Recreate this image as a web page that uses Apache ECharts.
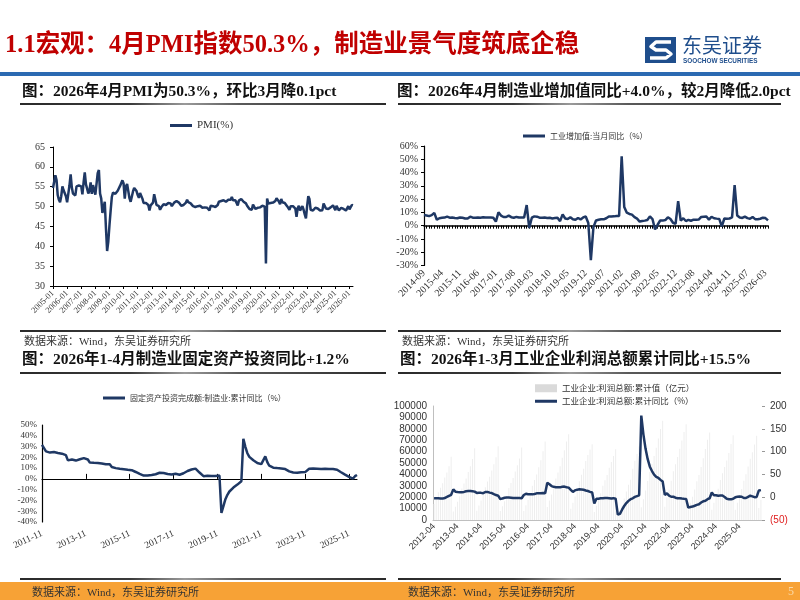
<!DOCTYPE html>
<html><head><meta charset="utf-8">
<script src="https://cdn.jsdelivr.net/npm/echarts@6/dist/echarts.min.js"></script>
<style>html,body{margin:0;padding:0;background:#fff}#c{width:800px;height:600px}</style>
</head><body><div id="c"></div>
<script>
// ---------- category labels ----------
function monthLabels(y0, m0, y1, m1, skipJanFromYear) {
  const out = [];
  let y = y0, m = m0;
  while (y < y1 || (y === y1 && m <= m1)) {
    if (!(m === 1 && y >= skipJanFromYear)) out.push(y + '-' + (m < 10 ? '0' + m : m));
    m++; if (m > 12) { m = 1; y++; }
  }
  return out;
}
const pmiCategories = monthLabels(2005, 1, 2026, 4, 9999);
const iavCategories = monthLabels(2014, 9, 2026, 4, 2022);
const faiCategories = monthLabels(2011, 11, 2026, 4, 2000);
const profitCategories = monthLabels(2012, 4, 2026, 3, 2000);

// ---------- series values ----------
const pmiValues = [
  54.7,54.5,57.9,56.7,52.9,51.7,51.1,52.6,55.1,54.1,54.1,52.6,
  51.1,53.2,55.3,58.1,54.8,53.3,53.3,52.8,55.1,54.7,55.3,54.8,
  55.1,53.1,56.1,58.6,55.6,54.5,53.3,54.0,56.1,53.2,55.4,55.3,
  53.0,53.4,58.4,59.2,53.3,52.0,48.4,48.4,51.2,44.6,38.8,41.2,
  45.3,49.0,52.4,53.5,53.1,53.2,53.3,54.0,54.3,55.2,55.2,56.6,
  55.8,52.0,55.1,55.7,53.9,52.1,51.2,51.7,53.8,54.7,55.2,53.9,
  52.9,52.2,53.4,52.9,52.0,50.9,50.7,50.9,51.2,50.4,49.0,50.3,
  50.5,51.0,53.1,53.3,50.4,50.2,50.1,49.2,49.8,50.2,50.6,50.6,
  50.4,50.1,50.9,50.6,50.8,50.1,50.3,51.0,51.1,51.4,51.4,51.0,
  50.5,50.2,50.3,50.4,50.8,51.0,51.7,51.1,51.1,50.8,50.3,50.1,
  49.8,49.9,50.1,50.1,50.2,50.2,50.0,49.7,49.8,49.8,49.6,49.7,
  49.4,49.0,50.2,50.1,50.1,50.0,49.9,50.4,50.4,51.2,51.7,51.4,
  51.3,51.6,51.8,51.2,51.2,51.7,51.4,51.7,52.4,51.6,51.8,51.6,
  51.3,50.3,51.5,51.4,51.9,51.5,51.2,51.3,50.8,50.2,50.0,49.4,
  49.5,49.2,50.5,50.1,49.4,49.4,49.7,49.5,49.8,49.3,50.2,50.2,
  50.0,35.7,52.0,50.8,50.6,50.9,51.1,51.0,51.5,51.4,52.1,51.9,
  51.3,50.6,51.9,51.1,51.0,50.9,50.4,50.1,49.6,49.2,50.1,50.3,
  50.1,50.2,49.5,47.4,49.6,50.2,49.0,49.4,50.1,49.2,48.0,47.0,
  50.1,52.6,51.9,49.2,48.8,49.0,49.3,49.7,50.2,49.5,49.4,49.0,
  49.2,49.1,50.8,50.4,49.5,49.5,49.4,49.1,49.8,50.1,50.3,50.1,
  49.1,50.2,50.5,49.0,49.5,49.7,49.3,49.4,49.8,49.0,49.2,50.1,
  49.3,49.2,50.4,50.3
];
const iavValues = [
  8.0,7.7,7.2,7.9,
  9.6,4.5,5.6,5.9,6.1,6.8,6.0,6.1,5.7,5.6,6.2,5.9,
  5.4,5.4,6.8,6.0,6.0,6.2,6.0,6.3,6.1,6.1,6.2,6.0,
  3.0,10.0,7.6,6.5,6.5,7.6,6.4,6.0,6.6,6.2,6.1,6.2,
  15.5,-1.8,6.0,7.0,6.8,6.0,6.0,6.1,5.8,5.9,5.4,5.7,
  6.0,3.4,8.5,5.4,5.0,6.3,4.8,4.4,5.8,4.7,6.2,6.9,
  2.0,-25.9,-1.1,3.9,4.4,4.8,4.8,5.6,6.9,6.9,7.0,7.3,
  7.3,52.3,14.1,9.8,8.8,8.3,6.4,5.3,3.1,3.5,3.8,4.3,
  7.0,5.0,-2.9,0.7,3.9,3.8,4.2,6.3,5.0,2.2,1.3,
  18.5,3.9,5.6,3.5,4.4,3.7,4.5,4.5,4.6,6.6,6.8,
  6.9,4.5,6.7,5.6,5.3,5.1,-0.5,5.4,5.3,5.4,6.2,
  30.5,7.7,6.1,5.8,6.8,5.7,5.2,6.5,4.9,4.8,5.2,
  6.0,5.7,4.0
];
const faiValues = [
  31.5,31.8,
  25.5,24.7,24.4,25.0,24.9,24.6,24.1,23.5,23.4,22.4,22.0,
  17.2,19.0,18.0,17.3,17.0,17.6,18.2,19.0,19.3,18.5,18.0,
  15.1,15.2,14.9,14.8,14.8,14.6,14.2,13.8,13.5,13.0,13.5,
  11.0,10.4,10.0,9.7,9.4,9.0,8.9,8.3,8.4,8.1,8.1,
  7.5,6.4,6.0,4.6,3.3,3.1,2.8,3.1,3.1,3.6,4.2,
  4.3,5.8,5.7,5.1,5.5,4.8,4.5,4.2,4.1,4.1,4.8,
  4.3,3.8,4.8,5.2,6.8,7.3,7.5,8.7,9.1,9.5,9.5,
  5.9,4.6,2.5,2.7,3.0,3.3,2.6,2.5,2.6,2.5,3.1,
  -31.5,-25.2,-18.8,-14.8,-11.7,-10.2,-8.1,-6.5,-5.3,-3.5,-2.2,
  37.3,29.8,23.8,20.4,19.2,17.3,15.7,14.8,14.2,13.7,13.5,
  20.9,15.6,12.2,10.6,10.4,9.9,10.0,10.1,9.7,9.3,9.1,
  8.1,7.0,6.4,6.0,6.0,5.7,5.9,6.2,6.2,6.3,6.5,
  9.4,9.9,9.7,9.6,9.5,9.3,9.1,9.2,9.3,9.3,9.2,
  9.0,9.1,8.8,8.5,7.5,6.2,5.1,4.0,2.7,1.9,0.6,
  0.3,2.5,3.6
];
const profitTotal = [
  14000,18600,24400,28300,32200,37200,41700,47100,55578,
  7500,11700,15900,20800,27600,32000,36400,42100,47100,53400,62831,
  8100,12700,17100,21900,28700,33700,38000,43400,48800,55000,64715,
  7800,12000,16400,21100,28000,32500,36800,42600,48000,54000,63554,
  8000,12900,17500,22700,30000,35100,40000,46200,52500,60300,68803,
  11400,17000,22400,28400,36300,41700,47100,54600,61200,68800,75187,
  9800,15100,20600,27000,34100,39800,44900,51700,57100,61800,66351,
  7100,12500,17600,23400,30000,34800,39500,45900,50800,56100,61996,
  4100,7800,12600,18900,25100,31000,35200,45000,52000,58000,64516,
  11100,18300,25900,34200,42200,49200,56100,63300,71600,79800,87092,
  11600,19700,26600,34400,42700,48900,55300,62400,69800,77200,84039,
  8900,15200,20300,26700,33900,39400,46600,54100,62300,70300,76858,
  9100,15100,21000,27500,35100,40900,46500,52300,58700,66700,74311,
  9100,15100,21200,27200,34400,40200,46900,53700,59500,66300,73900,
  10500,17500
];
const profitYoY = [
  -2.2,-2.4,-2.2,-2.7,-3.1,-1.8,0.5,3.0,5.3,
  17.2,12.1,11.4,11.1,11.1,11.6,13.1,13.5,13.7,13.2,12.2,
  9.4,9.6,9.5,8.8,11.4,11.6,10.0,9.0,6.7,4.7,3.3,
  -4.2,-2.7,-1.3,-0.8,-0.7,-1.0,-1.9,-1.7,-2.0,-1.9,-2.3,
  4.8,7.4,6.5,6.4,6.2,6.9,8.4,8.4,8.6,9.4,8.5,
  31.5,28.3,24.4,22.7,22.0,21.6,21.6,22.8,23.3,21.9,21.0,
  16.1,11.6,15.0,16.5,17.2,17.1,16.2,14.7,13.6,11.8,10.3,
  -14.0,-3.3,-3.4,-2.3,-2.4,-1.7,-1.7,-2.1,-2.9,-2.1,-3.3,
  -38.3,-36.7,-27.4,-19.3,-12.8,-8.1,-4.4,-2.4,0.7,2.4,4.1,
  178.9,137.3,106.0,83.4,66.9,57.3,49.5,44.7,42.2,38.0,34.3,
  5.0,8.5,3.5,1.0,1.0,-1.1,-2.1,-2.3,-3.0,-3.6,-4.0,
  -22.9,-21.4,-20.6,-18.8,-16.8,-15.5,-11.7,-9.0,-7.8,-4.4,-2.3,
  10.2,4.3,4.3,3.4,3.5,3.6,0.5,-3.5,-4.3,-4.7,-3.3,
  -0.3,0.8,1.4,1.1,-1.8,-1.7,0.9,3.2,1.9,0.1,0.6,
  14.5,15.5
];

// ---------- texts ----------
const mainTitle = '1.1宏观：4月PMI指数50.3%，制造业景气度筑底企稳';
const chartTitles = [
  '图：2026年4月PMI为50.3%，环比3月降0.1pct',
  '图：2026年4月制造业增加值同比+4.0%，较2月降低2.0pct',
  '图：2026年1-4月制造业固定资产投资同比+1.2%',
  '图：2026年1-3月工业企业利润总额累计同比+15.5%'
];
const sourceText = '数据来源：Wind，东吴证券研究所';
const seriesNames = ['PMI(%)', '工业增加值:当月同比（%）', '固定资产投资完成额:制造业:累计同比（%）',
  '工业企业:利润总额:累计值（亿元）', '工业企业:利润总额:累计同比（%）'];

// ---------- styling ----------
const SERIF = '"Liberation Serif","Times New Roman","Noto Sans CJK SC",serif';
const SANS = '"Liberation Sans",Arial,"Noto Sans CJK SC",sans-serif';
const CJK = '"Noto Sans CJK SC",sans-serif';
const NAVY = '#1F3864';
const TXT = '#333';

function txt(x, y, text, size, family, weight, fill, align) {
  return { type: 'text', x: x, y: y, silent: true,
    style: { text: text, fontSize: size, fontFamily: family, fontWeight: weight || 'normal',
      fill: fill || TXT, align: align || 'left', verticalAlign: 'middle' } };
}
function bar(x, y, w, h, fill) {
  return { type: 'rect', silent: true, shape: { x: x, y: y, width: w, height: h }, style: { fill: fill } };
}
function rule(x, y, w) {
  return bar(x, y, w, 2, { type: 'linear', x: 0, y: 0, x2: 1, y2: 0,
    colorStops: [{ offset: 0, color: '#2a2a2a' }, { offset: 0.3, color: '#3a3a3a' },
      { offset: 0.45, color: '#9a9a9a' }, { offset: 0.6, color: '#5a5a5a' }, { offset: 1, color: '#2a2a2a' }] });
}

const graphic = [
  txt(5, 46, mainTitle, 24.5, SERIF, 'bold', '#C00000'),
  // logo
  bar(645, 37, 31, 26, '#1F4E8C'),
  { type: 'polyline', silent: true, shape: { points: [[671,42],[656,42],[651,46.5],[656,50],[666,50],[671,54],[666,58],[650,58]] },
    style: { stroke: '#fff', lineWidth: 3.5, lineJoin: 'round', fill: null } },
  txt(682, 45, '东吴证券', 20, CJK, 'normal', '#1F4E8C'),
  txt(683, 61, 'SOOCHOW SECURITIES', 6.4, SANS, 'bold', '#1F4E8C'),
  bar(0, 72, 800, 4, '#2B6AB2'),
  // chart titles
  txt(22, 92, chartTitles[0], 15.5, SERIF, 'bold', '#111'),
  txt(397, 92, chartTitles[1], 15.5, SERIF, 'bold', '#111'),
  rule(20, 103, 366), rule(398, 103, 383),
  rule(20, 330, 366), rule(398, 330, 383),
  txt(24, 342, sourceText, 11, SERIF, 'normal', TXT),
  txt(402, 342, sourceText, 11, SERIF, 'normal', TXT),
  txt(22, 360, chartTitles[2], 15.5, SERIF, 'bold', '#111'),
  txt(400, 360, chartTitles[3], 15.5, SERIF, 'bold', '#111'),
  rule(20, 372, 366), rule(398, 372, 383),
  rule(20, 578, 366), rule(398, 578, 383),
  bar(0, 582, 800, 18, '#F7A236'),
  txt(32, 593, sourceText, 11, SERIF, 'normal', '#333'),
  txt(408, 593, sourceText, 11, SERIF, 'normal', '#333'),
  txt(788, 592, '5', 12, SERIF, 'normal', '#FBD9A6')
];

const legendBase = { padding: 0, icon: 'rect', itemWidth: 22, itemHeight: 3, itemGap: 6 };

const option = {
  animation: false,
  backgroundColor: '#fff',
  graphic: graphic,
  grid: [
    { left: 53, top: 147, width: 300, height: 139 },
    { left: 424, top: 146, width: 344, height: 119.5 },
    { left: 42, top: 425, width: 315, height: 97 },
    { left: 433, top: 406, width: 329, height: 114 }
  ],
  legend: [
    Object.assign({}, legendBase, { data: [seriesNames[0]], left: 170, top: 120,
      textStyle: { fontSize: 11, fontFamily: SERIF, color: TXT } }),
    Object.assign({}, legendBase, { data: [seriesNames[1]], left: 523, top: 132,
      textStyle: { fontSize: 8, fontFamily: CJK, color: TXT } }),
    Object.assign({}, legendBase, { data: [seriesNames[2]], left: 103, top: 394,
      textStyle: { fontSize: 8, fontFamily: CJK, color: TXT } }),
    Object.assign({}, legendBase, { data: [seriesNames[3]], left: 535, top: 384, itemHeight: 8,
      itemStyle: { color: '#DADADA' },
      textStyle: { fontSize: 8.5, fontFamily: CJK, color: TXT } }),
    Object.assign({}, legendBase, { data: [seriesNames[4]], left: 535, top: 397,
      textStyle: { fontSize: 8.5, fontFamily: CJK, color: TXT } })
  ],
  xAxis: [
    { gridIndex: 0, type: 'category', data: pmiCategories, boundaryGap: false,
      axisLine: { lineStyle: { color: '#000' } },
      axisTick: { interval: 11, length: 3, lineStyle: { color: '#000' } },
      axisLabel: { interval: 11, rotate: 45, fontSize: 8.5, fontFamily: SERIF, color: TXT, margin: 6 } },
    { gridIndex: 1, type: 'category', data: iavCategories, boundaryGap: false,
      axisLine: { onZero: true, lineStyle: { color: '#000', width: 1.5 } },
      axisTick: { interval: 0, length: 3, lineStyle: { color: '#000' } },
      axisLabel: { interval: 6, rotate: 45, fontSize: 10, fontFamily: SERIF, color: TXT, margin: 6 } },
    { gridIndex: 2, type: 'category', data: faiCategories, boundaryGap: false,
      axisLine: { onZero: true, lineStyle: { color: '#000', width: 1.2 } },
      axisTick: { inside: true, interval: 21, length: 5, lineStyle: { color: '#000' } },
      axisLabel: { interval: 21, rotate: 25, fontSize: 9.5, fontFamily: SERIF, color: TXT, margin: 11 } },
    { gridIndex: 3, type: 'category', data: profitCategories,
      axisLine: { lineStyle: { color: '#BFBFBF' } },
      axisTick: { interval: 10, alignWithLabel: true, length: 3, lineStyle: { color: '#999' } },
      axisLabel: { interval: 10, rotate: 45, fontSize: 9, fontFamily: SANS, color: TXT, margin: 5 } }
  ],
  yAxis: [
    { gridIndex: 0, type: 'value', min: 30, max: 65, interval: 5, splitLine: { show: false },
      axisLine: { show: true, lineStyle: { color: '#000' } },
      axisTick: { show: true, length: 3, lineStyle: { color: '#000' } },
      axisLabel: { fontSize: 10, fontFamily: SERIF, color: TXT } },
    { gridIndex: 1, type: 'value', min: -30, max: 60, interval: 10, splitLine: { show: false },
      axisLine: { show: true, lineStyle: { color: '#000', width: 1.2 } },
      axisTick: { show: true, length: 3, lineStyle: { color: '#000' } },
      axisLabel: { fontSize: 10, fontFamily: SERIF, color: TXT, formatter: '{value}%', margin: 6 } },
    { gridIndex: 2, type: 'value', min: -40, max: 50, interval: 10, splitLine: { show: false },
      axisLine: { show: true, lineStyle: { color: '#000', width: 1.2 } },
      axisTick: { show: false },
      axisLabel: { fontSize: 9, fontFamily: SERIF, color: TXT, formatter: '{value}%', margin: 5 } },
    { gridIndex: 3, type: 'value', min: 0, max: 100000, interval: 10000, splitLine: { show: false },
      axisLine: { show: true, lineStyle: { color: '#BFBFBF' } },
      axisTick: { show: false },
      axisLabel: { fontSize: 10, fontFamily: SANS, color: TXT, margin: 6,
        formatter: function (v) { return String(v); } } },
    { gridIndex: 3, type: 'value', position: 'right', min: -50, max: 200, interval: 50, splitLine: { show: false },
      axisLine: { show: false },
      axisTick: { show: true, length: 3, lineStyle: { color: '#999' } },
      axisLabel: { fontSize: 10, fontFamily: SANS, color: TXT, margin: 8,
        formatter: function (v) { return v < 0 ? '{neg|(' + (-v) + ')}' : String(v); },
        rich: { neg: { color: '#E02020', fontSize: 10, fontFamily: SANS } } } }
  ],
  series: [
    { name: seriesNames[0], type: 'line', xAxisIndex: 0, yAxisIndex: 0, data: pmiValues,
      showSymbol: false, lineStyle: { color: NAVY, width: 2.5 }, itemStyle: { color: NAVY } },
    { name: seriesNames[1], type: 'line', xAxisIndex: 1, yAxisIndex: 1, data: iavValues,
      showSymbol: false, lineStyle: { color: NAVY, width: 2.5 }, itemStyle: { color: NAVY } },
    { name: seriesNames[2], type: 'line', xAxisIndex: 2, yAxisIndex: 2, data: faiValues,
      showSymbol: false, lineStyle: { color: NAVY, width: 2.5 }, itemStyle: { color: NAVY } },
    { name: seriesNames[3], type: 'bar', xAxisIndex: 3, yAxisIndex: 3, data: profitTotal,
      barWidth: 1, itemStyle: { color: '#EEEEEE' } },
    { name: seriesNames[4], type: 'line', xAxisIndex: 3, yAxisIndex: 4, data: profitYoY,
      showSymbol: false, lineStyle: { color: NAVY, width: 2.5 }, itemStyle: { color: NAVY }, z: 3 }
  ]
};
const chart = echarts.init(document.getElementById('c'), null, { renderer: 'canvas' });
chart.setOption(option);
</script></body></html>
